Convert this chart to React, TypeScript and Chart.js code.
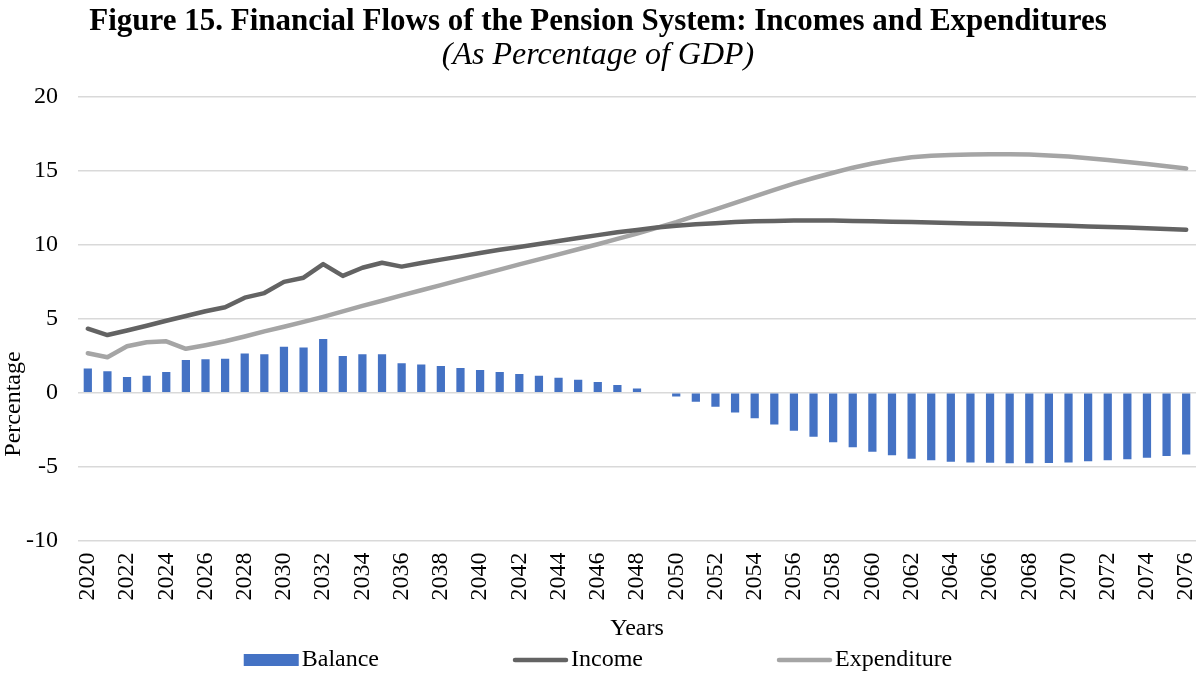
import React, { useEffect, useRef } from "react";
import { Chart, registerables } from "chart.js";

Chart.register(...registerables);

const SERIF = "'Liberation Serif', 'Times New Roman', Times, serif";

const TITLE = "Figure 15. Financial Flows of the Pension System: Incomes and Expenditures";
const SUBTITLE = "(As Percentage of GDP)";
const X_TITLE = "Years";
const Y_TITLE = "Percentage";

const years = [
  "2020", "2021", "2022", "2023", "2024", "2025", "2026", "2027", "2028", "2029",
  "2030", "2031", "2032", "2033", "2034", "2035", "2036", "2037", "2038", "2039",
  "2040", "2041", "2042", "2043", "2044", "2045", "2046", "2047", "2048", "2049",
  "2050", "2051", "2052", "2053", "2054", "2055", "2056", "2057", "2058", "2059",
  "2060", "2061", "2062", "2063", "2064", "2065", "2066", "2067", "2068", "2069",
  "2070", "2071", "2072", "2073", "2074", "2075", "2076",
];

const balance = [
  1.64, 1.46, 1.06, 1.15, 1.4, 2.21, 2.27, 2.3, 2.66, 2.61,
  3.11, 3.06, 3.63, 2.48, 2.61, 2.61, 2.0, 1.91, 1.8, 1.67,
  1.53, 1.4, 1.26, 1.15, 1.01, 0.88, 0.72, 0.52, 0.29, 0.0,
  -0.25, -0.61, -0.95, -1.33, -1.73, -2.14, -2.57, -2.97, -3.35, -3.69,
  -3.99, -4.23, -4.46, -4.57, -4.66, -4.71, -4.73, -4.77, -4.77, -4.75,
  -4.71, -4.64, -4.57, -4.5, -4.39, -4.28, -4.17,
];

const income = [
  4.33, 3.9, 4.21, 4.53, 4.87, 5.19, 5.51, 5.78, 6.43, 6.74,
  7.5, 7.78, 8.7, 7.9, 8.45, 8.79, 8.53, 8.77, 9.0, 9.22,
  9.45, 9.67, 9.86, 10.06, 10.26, 10.46, 10.66, 10.85, 11.01, 11.17,
  11.29, 11.39, 11.47, 11.54, 11.59, 11.62, 11.64, 11.65, 11.64, 11.62,
  11.6, 11.57, 11.54, 11.51, 11.48, 11.45, 11.42, 11.39, 11.36, 11.33,
  11.29, 11.25, 11.21, 11.17, 11.12, 11.07, 11.02,
];

const expenditure = [
  2.67, 2.4, 3.14, 3.41, 3.48, 2.97, 3.21, 3.48, 3.8, 4.15,
  4.46, 4.79, 5.13, 5.5, 5.87, 6.22, 6.58, 6.93, 7.28, 7.63,
  7.98, 8.33, 8.68, 9.02, 9.36, 9.7, 10.04, 10.4, 10.76, 11.15,
  11.54, 11.98, 12.4, 12.84, 13.28, 13.72, 14.14, 14.52, 14.88, 15.22,
  15.5, 15.74, 15.92, 16.02, 16.08, 16.11, 16.13, 16.13, 16.11, 16.05,
  15.97, 15.86, 15.74, 15.61, 15.47, 15.32, 15.17,
];

const yTicks = { min: -10, max: 20, step: 5 };

const BLUE = "#4472C4";
const DARK = "#636363";
const LIGHT = "#A5A5A5";
const GRID = "#D9D9D9";

const customText = {
  id: "customText",
  afterDraw(chart: any) {
    const ctx: CanvasRenderingContext2D = chart.ctx;
    // y-axis title
    ctx.save();
    ctx.font = `24px ${SERIF}`;
    ctx.fillStyle = "#000";
    ctx.translate(20, 404);
    ctx.rotate(-Math.PI / 2);
    ctx.textAlign = "center";
    ctx.textBaseline = "alphabetic";
    ctx.fillText(Y_TITLE, 0, 0);
    ctx.restore();

    // legend
    ctx.save();
    ctx.font = `24px ${SERIF}`;
    const symW = 55;
    const symGap = 3;
    const itemGap = 134;
    const cy = 660;
    const ds = chart.data.datasets;
    const widths = ds.map((d: any) => symW + symGap + ctx.measureText(d.label).width);
    const total = widths.reduce((a: number, b: number) => a + b, 0) + itemGap * (ds.length - 1);
    let x = (chart.width - total) / 2;
    ds.forEach((d: any, i: number) => {
      if (d.type === "line") {
        ctx.strokeStyle = d.borderColor;
        ctx.lineWidth = d.borderWidth;
        ctx.lineCap = "round";
        ctx.beginPath();
        ctx.moveTo(x + 2, cy);
        ctx.lineTo(x + symW - 2, cy);
        ctx.stroke();
      } else {
        ctx.fillStyle = d.backgroundColor;
        ctx.fillRect(x, cy - 6, symW, 12);
      }
      ctx.fillStyle = "#000";
      ctx.textAlign = "left";
      ctx.textBaseline = "middle";
      ctx.fillText(d.label, x + symW + symGap, cy);
      x += widths[i] + itemGap;
    });
    ctx.restore();
  },
};

export default function App() {
  const ref = useRef<HTMLCanvasElement>(null);

  useEffect(() => {
    document.body.style.margin = "0";
    Chart.defaults.color = "#000";
    const chart = new Chart(ref.current as HTMLCanvasElement, {
      type: "bar",
      data: {
        labels: years,
        datasets: [
          {
            type: "bar",
            label: "Balance",
            data: balance,
            backgroundColor: BLUE,
            borderWidth: 0,
            barPercentage: 0.42,
            categoryPercentage: 1.0,
            order: 1,
          } as any,
          {
            type: "line",
            label: "Income",
            data: income,
            borderColor: DARK,
            backgroundColor: DARK,
            borderWidth: 4.5,
            pointRadius: 0,
            tension: 0,
            borderCapStyle: "round",
            borderJoinStyle: "round",
            fill: false,
            order: 0,
          } as any,
          {
            type: "line",
            label: "Expenditure",
            data: expenditure,
            borderColor: LIGHT,
            backgroundColor: LIGHT,
            borderWidth: 4.5,
            pointRadius: 0,
            tension: 0,
            borderCapStyle: "round",
            borderJoinStyle: "round",
            fill: false,
            order: 0,
          } as any,
        ],
      },
      options: {
        responsive: false,
        animation: false,
        events: [],
        layout: { padding: { top: 0, left: 0, right: 0, bottom: 30 } },
        plugins: {
          legend: { display: false },
          tooltip: { enabled: false },
          title: {
            display: true,
            text: TITLE,
            color: "#000",
            font: { family: SERIF, size: 31, weight: "bold", lineHeight: 0.9 },
            padding: { top: 8.5, bottom: 0 },
          },
          subtitle: {
            display: true,
            text: SUBTITLE,
            color: "#000",
            font: { family: SERIF, size: 32, style: "italic", lineHeight: 0.9 },
            padding: { top: 5, bottom: 26.8 },
          },
        },
        scales: {
          x: {
            grid: { display: false, drawTicks: false },
            border: { display: false },
            ticks: {
              autoSkip: false,
              minRotation: 90,
              maxRotation: 90,
              padding: 12,
              color: "#000",
              font: { family: SERIF, size: 24 },
              callback: function (this: any, val: any, index: number) {
                return index % 2 === 0 ? this.getLabelForValue(val) : "";
              },
            },
            title: {
              display: true,
              text: X_TITLE,
              color: "#000",
              font: { family: SERIF, size: 24, lineHeight: 1.2 },
              padding: { top: 0, bottom: 0 },
            },
            afterFit(scale: any) {
              scale.height = 102.4;
              scale.paddingLeft = 0;
              scale.paddingRight = 0;
            },
          },
          y: {
            min: yTicks.min,
            max: yTicks.max,
            grid: { color: GRID, lineWidth: 1.5, drawTicks: false },
            border: { display: false },
            ticks: {
              stepSize: yTicks.step,
              padding: 20,
              color: "#000",
              font: { family: SERIF, size: 24 },
            },
            afterFit(scale: any) {
              scale.width = 78;
            },
          },
        },
      },
      plugins: [customText],
    } as any);
    return () => chart.destroy();
  }, []);

  return (
    <div style={{ width: 1196, height: 673 }}>
      <canvas ref={ref} width={1196} height={673} style={{ display: "block" }} />
    </div>
  );
}
